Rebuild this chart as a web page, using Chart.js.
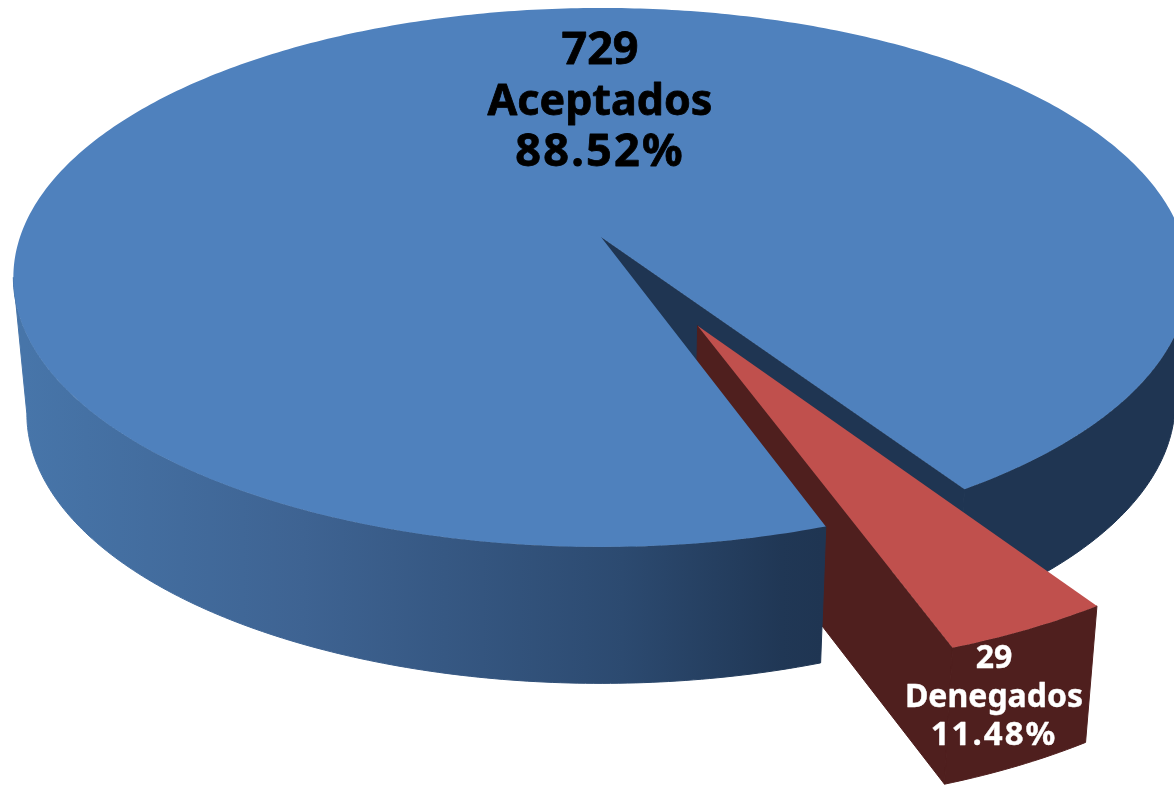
<!DOCTYPE html>
<html>
<head>
<meta charset="utf-8">
<title>Aceptados / Denegados</title>
<script src="https://cdn.jsdelivr.net/npm/chart.js@4/dist/chart.umd.js"></script>
<style>
html,body{margin:0;padding:0;background:#fff;overflow:hidden}
canvas{display:block}
</style>
</head>
<body>
<canvas id="grafica" width="1174" height="785"></canvas>
<script>
// datos
let categorias = ["Aceptados","Denegados"]
let valores = [729,29]
let porcentajes = ["88.52%","11.48%"]

let coloresTapa = ["#4f81bd","#c0504d"]
let colorLadoRojo = "#4f1f1e"
let colorLadoAzul = "#1f3552"

// proyeccion de la tarta en perspectiva
const cx = 601, cy = 237
const radioX = 581, radioY = 263.4, fuga = 0.15
const grosor = 136.5, grosorDerecha = 124.5, encoge = 0.977

function tapa(u,v){
    let w = 1 - fuga*v
    return [cx + radioX*u/w, cy + radioY*v/w]
}

function base(u,v,g){
    let p = tapa(u,v)
    return [cx + encoge*(p[0]-cx), p[1] + g]
}

function borde(a,ex,ey){
    return [Math.cos(a)+ex, Math.sin(a)+ey]
}

function trazar(ctx,puntos,color,relleno){
    ctx.beginPath()
    puntos.forEach((p,i)=>{
        if(i==0) ctx.moveTo(p[0],p[1])
        else ctx.lineTo(p[0],p[1])
    })
    ctx.closePath()
    ctx.fillStyle = color
    ctx.fill()
    // para tapar la costura entre caras del mismo color
    if(relleno){
        ctx.strokeStyle = color
        ctx.lineWidth = 1
        ctx.stroke()
    }
}

function muestras(a1,a2){
    let lista = []
    let n = Math.max(2,Math.ceil(Math.abs(a2-a1)*80))
    for(let i=0;i<=n;i++) lista.push(a1+(a2-a1)*i/n)
    return lista
}

function cara(ctx,a1,a2,ex,ey,color,g){
    let arriba = muestras(a1,a2).map(a=>{let b=borde(a,ex,ey);return tapa(b[0],b[1])})
    let abajo = muestras(a1,a2).reverse().map(a=>{let b=borde(a,ex,ey);return base(b[0],b[1],g)})
    trazar(ctx,arriba.concat(abajo),color,true)
}

function sector(ctx,a1,a2,ex,ey,color){
    let puntos = [tapa(ex,ey)]
    muestras(a1,a2).forEach(a=>{
        let b = borde(a,ex,ey)
        puntos.push(tapa(b[0],b[1]))
    })
    trazar(ctx,puntos,color,false)
}

function texto(ctx,t,x,y,fuente,espacio,peso){
    ctx.font = fuente
    ctx.letterSpacing = espacio
    ctx.lineWidth = peso
    ctx.fillText(t,x,y)
    ctx.strokeText(t,x,y)
}

const pastel3d = {
    id:"pastel3d",
    beforeDatasetsDraw(chart){
        let ctx = chart.ctx
        let arcos = chart.getDatasetMeta(0).data
        let azul = arcos[0], rojo = arcos[1]
        let mitad = (rojo.startAngle+rojo.endAngle)/2
        let d = rojo.options.offset/rojo.outerRadius
        let ex = Math.cos(mitad)*d, ey = Math.sin(mitad)*d
        // angulo donde la silueta es mas ancha
        let extremo = Math.asin(fuga)

        // lado derecho azul y pared interior
        cara(ctx,extremo+Math.PI*2,azul.endAngle,0,0,colorLadoAzul,grosorDerecha)
        let fin = borde(azul.endAngle,0,0)
        trazar(ctx,[tapa(0,0),tapa(fin[0],fin[1]),base(fin[0],fin[1],grosorDerecha),base(0,0,grosor)],colorLadoAzul,true)

        // porcion separada
        let fin2 = borde(rojo.endAngle,ex,ey)
        trazar(ctx,[tapa(ex,ey),tapa(fin2[0],fin2[1]),base(fin2[0],fin2[1],grosor),base(ex,ey,grosor)],colorLadoRojo,true)
        cara(ctx,rojo.startAngle,rojo.endAngle,ex,ey,colorLadoRojo,grosor)
        sector(ctx,rojo.startAngle,rojo.endAngle,ex,ey,rojo.options.backgroundColor)

        // lado frontal azul con degradado
        let g = ctx.createLinearGradient(25,0,822,0)
        g.addColorStop(0,"#4775a9")
        g.addColorStop(0.35,"#3e6392")
        g.addColorStop(0.75,"#2c4a70")
        g.addColorStop(0.95,"#203755")
        g.addColorStop(1,"#1f3552")
        cara(ctx,azul.startAngle,Math.PI-extremo,0,0,g,grosor)
        sector(ctx,azul.startAngle,azul.endAngle,0,0,azul.options.backgroundColor)

        // etiquetas
        ctx.textAlign = "center"
        ctx.textBaseline = "alphabetic"
        ctx.lineJoin = "round"
        ctx.fillStyle = "#000"
        ctx.strokeStyle = "#000"
        texto(ctx,String(valores[0]),600,64,"bold 45px 'Noto Sans'","0px",0.8)
        texto(ctx,categorias[0],600,115,"bold 43px 'Noto Sans'","0px",0.8)
        texto(ctx,porcentajes[0],600,166,"bold 45px 'Noto Sans'","2.2px",0.8)
        ctx.fillStyle = "#fff"
        ctx.strokeStyle = "#fff"
        texto(ctx,String(valores[1]),994,668,"bold 32px 'Noto Sans'","0px",0.4)
        texto(ctx,categorias[1],994,707,"bold 32px 'Noto Sans'","0px",0.4)
        texto(ctx,porcentajes[1],994,745,"bold 33px 'Noto Sans'","2px",0.4)
        return false
    }
}

new Chart(document.getElementById("grafica"),{
    type:"pie",
    data:{
        labels:categorias,
        datasets:[{
            data:valores,
            backgroundColor:coloresTapa,
            borderWidth:0,
            offset:[0,119],
            hoverOffset:0
        }]
    },
    options:{
        responsive:false,
        animation:false,
        rotation:160.6,
        events:[],
        plugins:{
            legend:{display:false},
            tooltip:{enabled:false}
        }
    },
    plugins:[pastel3d]
})
</script>
</body>
</html>
